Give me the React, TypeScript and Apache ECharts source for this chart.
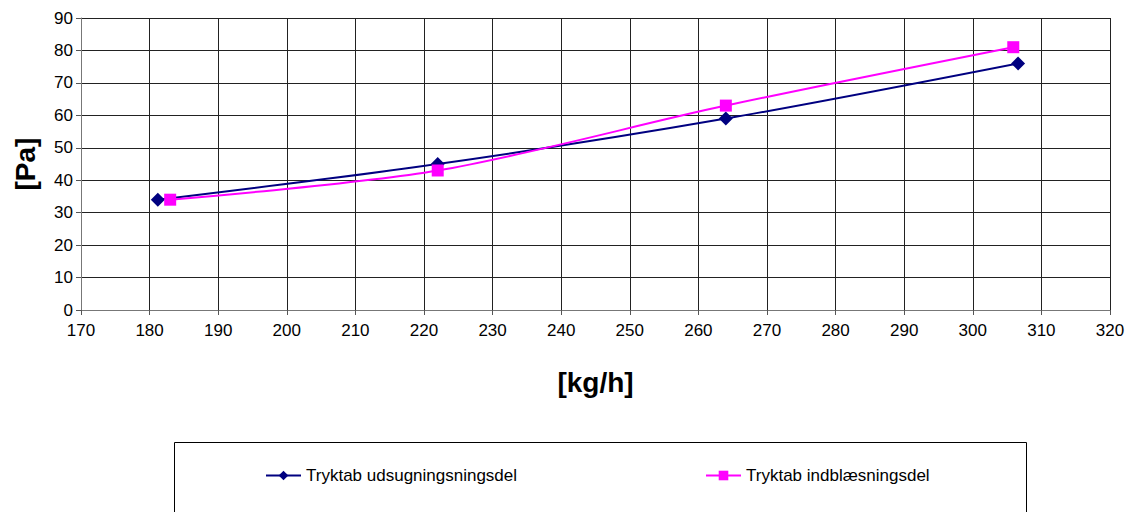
import React, { useEffect, useRef } from "react";
import * as echarts from "echarts";

const exhaustFlow = [181.2, 222, 264, 306.6];
const exhaustPressure = [34, 45, 59, 76];
const supplyFlow = [183, 222, 264, 305.9];
const supplyPressure = [34, 43, 63, 81];
const exhaustName = "Tryktab udsugningsningsdel";
const supplyName = "Tryktab indblæsningsdel";

export default function App() {
  const ref = useRef<HTMLDivElement>(null);
  useEffect(() => {
    const chart = echarts.init(ref.current!, undefined, { renderer: "svg" });
    const font = "Liberation Sans, Arial, sans-serif";
    chart.setOption({
      animation: false,
      backgroundColor: "#fff",
      textStyle: { fontFamily: font },
      grid: { left: 81, right: 23, top: 18, bottom: 202 },
      graphic: [
        {
          type: "rect",
          shape: { x: 174.5, y: 442.5, width: 852, height: 90 },
          style: { fill: "#fff", stroke: "#000", lineWidth: 1 },
          z: -1,
        },
      ],
      legend: [
        {
          data: [exhaustName],
          left: 260,
          top: 462,
          itemWidth: 35,
          itemHeight: 12,
          itemGap: 0,
          textStyle: { fontFamily: font, fontSize: 17, color: "#000" },
        },
        {
          data: [supplyName],
          left: 700,
          top: 462,
          itemWidth: 35,
          itemHeight: 12,
          itemGap: 0,
          textStyle: { fontFamily: font, fontSize: 17, color: "#000" },
        },
      ],
      xAxis: {
        type: "value",
        min: 170,
        max: 320,
        interval: 10,
        name: "[kg/h]",
        nameLocation: "middle",
        nameGap: 58,
        nameTextStyle: { fontFamily: font, fontSize: 28, fontWeight: "bold", color: "#000" },
        axisLine: { onZero: false, lineStyle: { color: "#777", width: 1 } },
        axisTick: { show: true, inside: false, length: 5, lineStyle: { color: "#555" } },
        axisLabel: { fontSize: 17, color: "#000", margin: 12 },
        splitLine: { show: true, lineStyle: { color: "#222", width: 1 } },
      },
      yAxis: {
        type: "value",
        min: 0,
        max: 90,
        interval: 10,
        name: "[Pa]",
        nameLocation: "middle",
        nameRotate: 90,
        nameGap: 42,
        nameTextStyle: { fontFamily: font, fontSize: 28, fontWeight: "bold", color: "#000" },
        axisLine: { show: true, lineStyle: { color: "#777", width: 1 } },
        axisTick: { show: true, inside: false, length: 5, lineStyle: { color: "#555" } },
        axisLabel: { fontSize: 17, color: "#000", margin: 8 },
        splitLine: { show: true, lineStyle: { color: "#222", width: 1 } },
      },
      series: [
        {
          name: exhaustName,
          type: "line",
          smooth: 0.3,
          data: exhaustFlow.map((x, i) => [x, exhaustPressure[i]]),
          symbol: "diamond",
          symbolSize: 14,
          itemStyle: { color: "#000080" },
          lineStyle: { color: "#000080", width: 2 },
          z: 3,
        },
        {
          name: supplyName,
          type: "line",
          smooth: 0.3,
          data: supplyFlow.map((x, i) => [x, supplyPressure[i]]),
          symbol: "rect",
          symbolSize: 12,
          itemStyle: { color: "#FF00FF" },
          lineStyle: { color: "#FF00FF", width: 2 },
          z: 4,
        },
      ],
    });
    return () => chart.dispose();
  }, []);
  return <div ref={ref} style={{ width: 1133, height: 512, position: "absolute", left: 0, top: 0 }} />;
}
